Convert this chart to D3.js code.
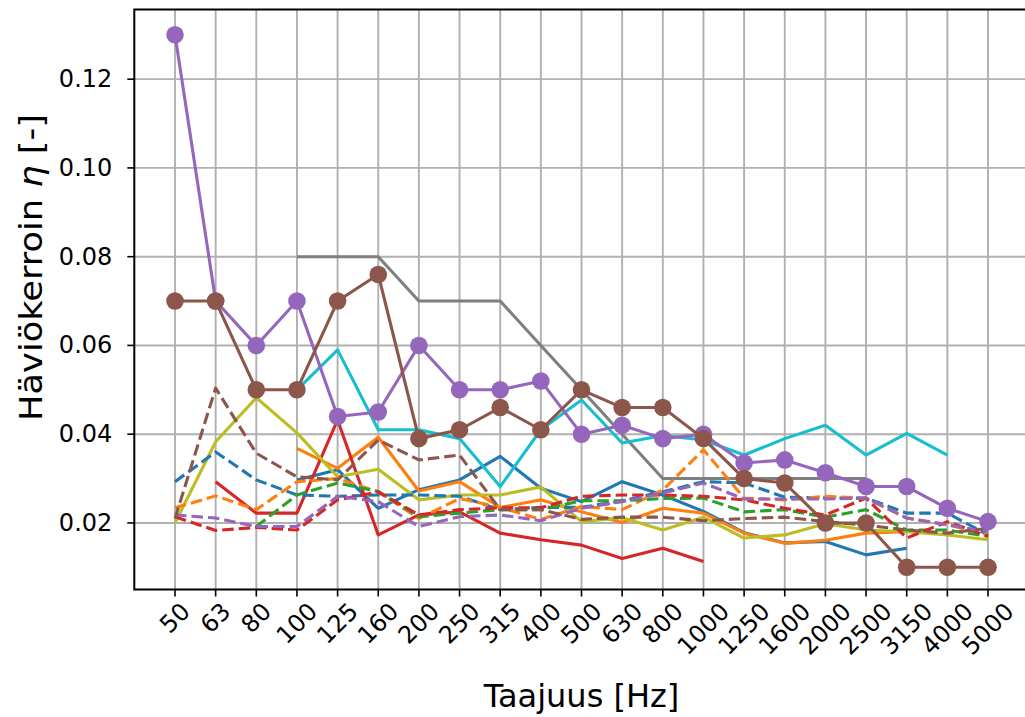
<!DOCTYPE html>
<html>
<head>
<meta charset="utf-8">
<script src="https://cdn.jsdelivr.net/npm/d3@7"></script>
<style>
  html, body { margin: 0; padding: 0; background: #fff; }
  svg { display: block; }
  text { font-family: "DejaVu Sans", sans-serif; fill: #000; }
</style>
</head>
<body>
<svg id="chart" width="1025" height="717"></svg>
<script>
// Third-octave band centre frequencies
const bands = ["50","63","80","100","125","160","200","250","315","400","500",
               "630","800","1000","1250","1600","2000","2500","3150","4000","5000"];

const yTicks = [0.02, 0.04, 0.06, 0.08, 0.10, 0.12];

// Loss factor per band (null = not measured)
const blueSolid   = [null,null,null,0.0297,0.032,0.0233,0.0275,0.0297,0.035,0.0278,0.0248,0.0293,0.0263,0.0226,0.0178,0.0155,0.0158,0.0128,0.0143,null,null];
const orangeSolid = [null,null,null,0.0368,0.0323,0.0393,0.0272,0.0293,0.0235,0.0252,0.0225,0.0201,0.0233,0.0222,0.0177,0.0154,0.0161,0.0177,0.018,null,null];
const redSolid    = [null,0.0293,0.0222,0.0222,0.0432,0.0173,0.0218,0.0225,0.0177,0.0162,0.015,0.012,0.0143,0.0113,null,null,null,null,null,null,null];
const graySolid   = [null,null,null,0.08,0.08,0.08,0.07,0.07,0.07,0.06,0.05,0.04,0.03,0.03,0.03,0.03,0.03,0.03,null,null,null];
const oliveSolid  = [0.020,0.0383,0.0482,0.0403,0.0304,0.0321,0.0252,0.0263,0.0263,0.0281,0.0203,0.0212,0.0184,0.0213,0.0166,0.0173,0.0198,0.0184,0.018,0.0173,0.0162];
const cyanSolid   = [null,null,null,0.05,0.059,0.041,0.041,0.039,0.0282,0.041,0.0477,0.038,0.0397,0.0387,0.0353,0.039,0.042,0.0353,0.0402,0.0353,null];

const blueDashed   = [0.0293,0.036,0.0297,0.0263,0.026,0.0263,0.0263,0.026,0.023,0.0235,0.0235,0.025,0.027,0.0293,0.029,0.0258,0.0256,0.0256,0.0222,0.0222,0.0173];
const orangeDashed = [0.0234,0.0261,0.023,0.0293,0.030,0.027,0.021,0.0255,0.0235,0.0208,0.0237,0.023,0.0274,0.0365,0.0256,0.0252,0.026,0.0256,0.0211,0.0196,0.0173];
const greenDashed  = [null,null,0.0192,0.0263,0.029,0.0271,0.0214,0.0222,0.023,0.023,0.025,0.025,0.0255,0.0256,0.0225,0.023,0.0213,0.023,0.0184,0.0184,0.017];
const redDashed    = [0.0214,0.0183,0.019,0.0184,0.0252,0.027,0.0218,0.023,0.0234,0.0234,0.026,0.0263,0.0263,0.026,0.0252,0.0233,0.0218,0.0256,0.0166,0.0203,0.017];
const purpleDashed = [0.0218,0.0211,0.0192,0.0192,0.026,0.0248,0.0192,0.0214,0.0218,0.0205,0.0233,0.0248,0.0267,0.029,0.0254,0.0254,0.0254,0.0256,0.0211,0.0196,0.018];
const brownDashed  = [0.021,0.0504,0.0357,0.0304,0.0297,0.0387,0.0342,0.0353,0.023,0.023,0.0208,0.0213,0.0213,0.0205,0.021,0.0213,0.0203,0.0195,0.0184,0.0177,0.0188];

const purpleMarked = [0.13,0.07,0.06,0.07,0.044,0.045,0.06,0.05,0.05,0.052,0.04,0.042,0.039,0.04,0.0335,0.0342,0.0313,0.0282,0.0282,0.0233,0.0203];
const brownMarked  = [0.07,0.07,0.05,0.05,0.07,0.076,0.039,0.041,0.046,0.041,0.05,0.046,0.046,0.039,0.030,0.029,0.020,0.020,0.010,0.010,0.010];

const C = {
  blue: "#1f77b4", orange: "#ff7f0e", green: "#2ca02c", red: "#d62728",
  purple: "#9467bd", brown: "#8c564b", gray: "#7f7f7f", olive: "#bcbd22", cyan: "#17becf"
};

const series = [
  { v: blueSolid,    c: C.blue },
  { v: orangeSolid,  c: C.orange },
  { v: redSolid,     c: C.red },
  { v: graySolid,    c: C.gray },
  { v: oliveSolid,   c: C.olive },
  { v: cyanSolid,    c: C.cyan },
  { v: blueDashed,   c: C.blue,   dash: true },
  { v: orangeDashed, c: C.orange, dash: true },
  { v: greenDashed,  c: C.green,  dash: true },
  { v: redDashed,    c: C.red,    dash: true },
  { v: purpleDashed, c: C.purple, dash: true },
  { v: brownDashed,  c: C.brown,  dash: true },
  { v: purpleMarked, c: C.purple, marker: true },
  { v: brownMarked,  c: C.brown,  marker: true }
];

// Axes frame
const frame = { left: 134.3, right: 1028.7, top: 9.5, bottom: 589.5 };

const x = d3.scalePoint().domain(bands).range([175, 988]);
const y = d3.scaleLinear().domain([0.005, 0.1357]).range([frame.bottom, frame.top]);

const svg = d3.select("#chart");

// Grid
const grid = svg.append("g").attr("stroke", "#b0b0b0").attr("stroke-width", 1.9);
grid.selectAll("line.v").data(bands).join("line")
  .attr("x1", d => x(d)).attr("x2", d => x(d))
  .attr("y1", frame.top).attr("y2", frame.bottom);
grid.selectAll("line.h").data(yTicks).join("line")
  .attr("x1", frame.left).attr("x2", frame.right)
  .attr("y1", d => y(d)).attr("y2", d => y(d));

// Lines
const plot = svg.append("g");
series.forEach(s => {
  const pts = bands.map((b, i) => ({ b, v: s.v[i] }));
  const line = d3.line().defined(d => d.v != null).x(d => x(d.b)).y(d => y(d.v));
  plot.append("path")
    .attr("d", line(pts))
    .attr("fill", "none")
    .attr("stroke", s.c)
    .attr("stroke-width", 3.1)
    .attr("stroke-linejoin", "round")
    .attr("stroke-dasharray", s.dash ? "11.5,5" : null);
  if (s.marker) {
    plot.append("g").selectAll("circle")
      .data(pts.filter(d => d.v != null)).join("circle")
      .attr("cx", d => x(d.b)).attr("cy", d => y(d.v))
      .attr("r", 8.8).attr("fill", s.c);
  }
});

// Spines
const spines = svg.append("g").attr("stroke", "#000").attr("stroke-width", 2).attr("fill", "none");
spines.append("rect")
  .attr("x", frame.left).attr("y", frame.top)
  .attr("width", frame.right - frame.left).attr("height", frame.bottom - frame.top);

// Y axis ticks + labels
const fs = 24;
const yAx = svg.append("g");
yAx.selectAll("line").data(yTicks).join("line")
  .attr("x1", frame.left - 7).attr("x2", frame.left)
  .attr("y1", d => y(d)).attr("y2", d => y(d))
  .attr("stroke", "#000").attr("stroke-width", 1.6);
yAx.selectAll("text").data(yTicks).join("text")
  .attr("x", frame.left - 22).attr("y", d => y(d))
  .attr("text-anchor", "end").attr("dominant-baseline", "central")
  .style("font-size", fs + "px")
  .text(d3.format(".2f"));

// X axis ticks + rotated labels
const xAx = svg.append("g");
xAx.selectAll("line").data(bands).join("line")
  .attr("x1", d => x(d)).attr("x2", d => x(d))
  .attr("y1", frame.bottom).attr("y2", frame.bottom + 7)
  .attr("stroke", "#000").attr("stroke-width", 1.6);
const labelTop = frame.bottom + 11;
xAx.selectAll("text").data(bands).join("text")
  .attr("text-anchor", "middle").attr("dominant-baseline", "central")
  .style("font-size", fs + "px")
  .text(d => d)
  .each(function(d) {
    const w = this.getComputedTextLength();
    const side = (w + fs * 0.8) * Math.SQRT1_2;
    const cx = x(d), cy = labelTop + side / 2;
    d3.select(this).attr("x", cx).attr("y", cy)
      .attr("transform", `rotate(-45,${cx},${cy})`);
  });

// Axis titles
svg.append("text")
  .attr("x", (frame.left + frame.right) / 2).attr("y", 707)
  .attr("text-anchor", "middle")
  .style("font-size", "32px")
  .text("Taajuus [Hz]");

const yl = svg.append("text")
  .attr("transform", `translate(42,${(frame.top + frame.bottom) / 2 - 32}) rotate(-90) scale(1.1,1)`)
  .attr("text-anchor", "middle")
  .style("font-size", "32px");
yl.append("tspan").text("Häviökerroin ");
yl.append("tspan").style("font-style", "italic").text("η");
yl.append("tspan").text(" [-]");
</script>
</body>
</html>
